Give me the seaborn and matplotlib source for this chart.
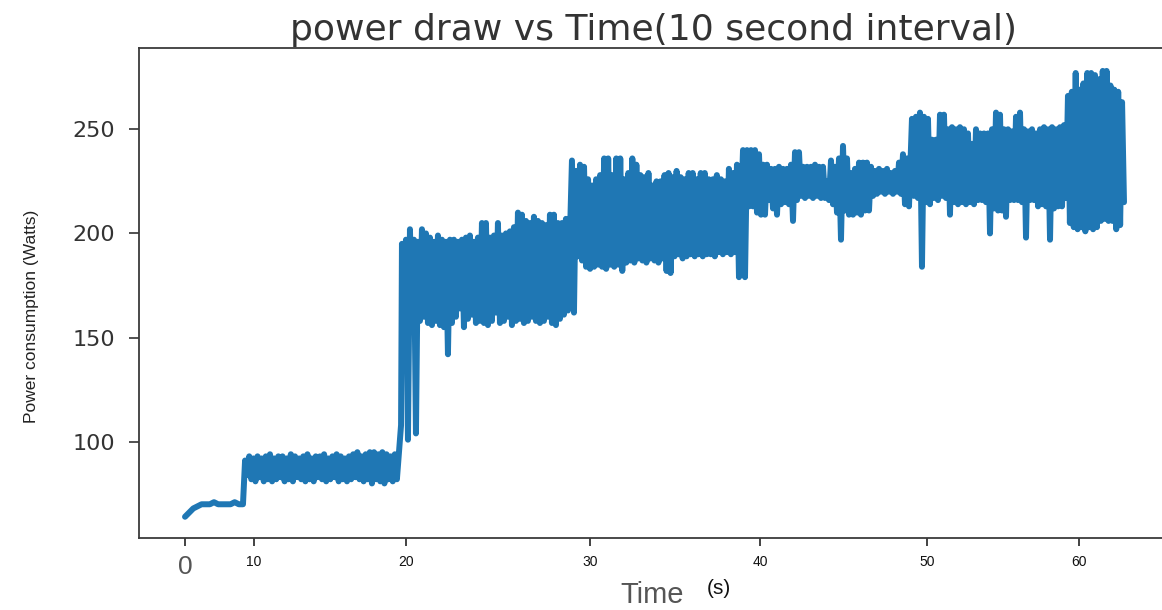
import matplotlib
matplotlib.use("Agg")
import matplotlib.pyplot as plt
import numpy as np
import pandas as pd
import seaborn as sns

# idle phase before the first load step
idle_w = [64, 66, 68, 69, 70, 70, 70, 71, 70, 70, 70, 70, 71, 70, 70]

# each loaded phase: upper and lower swings of the noisy signal (Watts)
hi_1 = [91, 93, 92, 93, 92, 93, 94, 92, 93, 93, 92, 94, 93, 92, 93, 94, 92, 93, 93,
        94, 92, 93, 94, 93, 92, 93, 94, 95, 93, 94, 95, 95, 94, 95, 94, 93, 94, 95]
lo_1 = [84, 82, 81, 83, 81, 82, 81, 82, 83, 81, 82, 81, 83, 82, 81, 82, 81, 83, 82,
        81, 82, 83, 81, 82, 81, 82, 83, 82, 81, 82, 80, 82, 81, 80, 82, 81, 82, 108]

hi_2 = [195, 197, 202, 197, 196, 202, 200, 198, 196, 199, 197, 196, 197, 197, 196,
        197, 198, 199, 196, 198, 205, 205, 198, 199, 205, 199, 200, 201, 203, 210,
        209, 206, 205, 208, 206, 205, 204, 209, 209, 205, 205, 207]
lo_2 = [165, 101, 160, 104, 158, 160, 157, 156, 158, 156, 155, 142, 157, 160, 164,
        155, 159, 161, 157, 158, 157, 156, 158, 162, 157, 158, 160, 156, 158, 159,
        157, 158, 160, 158, 157, 158, 160, 157, 156, 159, 161, 163]

hi_3 = [235, 230, 233, 232, 226, 223, 226, 228, 236, 236, 228, 236, 236, 226, 229,
        236, 233, 228, 227, 229, 223, 225, 225, 228, 229, 227, 230, 227, 226, 229,
        229, 226, 229, 229, 226, 226, 228, 226, 225, 231, 229, 233]
lo_3 = [162, 189, 187, 184, 183, 184, 185, 184, 183, 185, 184, 185, 182, 186, 187,
        186, 188, 187, 186, 188, 187, 186, 188, 182, 181, 189, 190, 188, 189, 190,
        189, 190, 189, 190, 190, 189, 191, 190, 191, 190, 191, 179]

hi_4 = [240, 240, 240, 240, 238, 233, 233, 231, 231, 232, 231, 231, 233, 239, 239,
        232, 232, 232, 233, 232, 232, 225, 235, 232, 236, 242, 236, 229, 231, 234,
        234, 234, 232, 230, 231, 230, 231, 229, 230, 234, 238, 236]
lo_4 = [179, 213, 213, 210, 209, 209, 216, 212, 209, 214, 215, 214, 206, 216, 218,
        217, 218, 217, 218, 217, 217, 216, 214, 210, 197, 211, 209, 209, 210, 209,
        211, 211, 218, 219, 220, 219, 220, 219, 220, 219, 214, 213]

hi_5 = [255, 256, 258, 256, 255, 245, 245, 257, 257, 250, 251, 250, 251, 250, 248,
        243, 250, 248, 248, 248, 250, 258, 257, 250, 250, 249, 256, 258, 250, 249,
        250, 248, 250, 251, 250, 251, 250, 251, 252]
lo_5 = [218, 217, 184, 215, 214, 217, 216, 218, 217, 209, 215, 214, 215, 214, 215,
        214, 216, 216, 215, 200, 212, 211, 211, 208, 216, 216, 216, 215, 198, 216,
        216, 213, 214, 213, 197, 212, 213, 213, 217]

hi_6 = [266, 268, 277, 269, 272, 277, 277, 276, 274, 278, 278, 271, 269, 268, 263]
lo_6 = [205, 203, 202, 203, 201, 203, 202, 203, 206, 207, 206, 206, 202, 204, 215]

# start / end time of each phase on the plotted axis
idle_span = (0.0, 3.89)
phase_start = [4.03, 14.56, 25.97, 37.45, 48.79, 59.26]
phase_end = [14.50, 25.70, 37.18, 48.59, 59.13, 63.02]
phase_hi = [hi_1, hi_2, hi_3, hi_4, hi_5, hi_6]
phase_lo = [lo_1, lo_2, lo_3, lo_4, lo_5, lo_6]

tick_pos = [0, 4.63, 14.83, 27.18, 38.59, 49.80, 60.0]
tick_labels = ["0", "10", "20", "30", "40", "50", "60"]
y_ticks = [100, 150, 200, 250]


def zigzag(hi, lo):
    out = []
    for h, l in zip(hi, lo):
        out += [h, l]
    return out


times = list(np.linspace(idle_span[0], idle_span[1], len(idle_w)))
watts = list(idle_w)
for start, end, hi, lo in zip(phase_start, phase_end, phase_hi, phase_lo):
    vals = zigzag(hi, lo)
    times += list(np.linspace(start, end, len(vals)))
    watts += vals
df = pd.DataFrame({"time": times, "watts": watts})

sns.set_style("white")
plt.rcParams["font.family"] = ["DejaVu Sans"]

fig = plt.figure(figsize=(11.62, 6.10), dpi=100)
ax = fig.add_axes([0.1196, 0.1180, 0.8859, 0.8033])

sns.lineplot(data=df, x="time", y="watts", color="#1f77b4", linewidth=4.3,
             sort=False, estimator=None, ax=ax)

ax.set_xlim(-3.09, 66.0)
ax.set_ylim(53.8, 289.0)

for side in ["left", "bottom", "top"]:
    ax.spines[side].set_color("#3a3a3a")
    ax.spines[side].set_linewidth(1.3)
ax.spines["right"].set_visible(False)

ax.set_yticks(y_ticks)
ax.set_yticklabels([str(v) for v in y_ticks], fontsize=16, color="#333333",
                   family="DejaVu Sans")
ax.tick_params(axis="y", length=7, width=1.2, color="#333333", pad=10, left=True)

ax.set_xticks(tick_pos)
ax.set_xticklabels(tick_labels, fontsize=10, color="#111111",
                   family=["Liberation Sans", "DejaVu Sans"])
ax.tick_params(axis="x", length=6, width=1.2, color="#222222", pad=6, bottom=True)
zero = ax.get_xticklabels()[0]
zero.set_fontsize(19)
zero.set_color("#555555")

ax.set_title("power draw vs Time(10 second interval)", fontsize=26,
             color="#333333", pad=6, family="DejaVu Sans")

ax.set_ylabel("Power consumption (Watts)", fontsize=12.5, color="#222222",
              family=["Liberation Sans", "DejaVu Sans"])
ax.yaxis.set_label_coords(-0.097, 0.453)

ax.set_xlabel("Time", fontsize=21, color="#555555",
              family=["Liberation Sans", "DejaVu Sans"])
ax.xaxis.set_label_coords(0.4983, -0.088)
ax.text(0.5634, -0.084, "(s)", transform=ax.transAxes, ha="center", va="top",
        fontsize=15, color="#111111", family=["Liberation Sans", "DejaVu Sans"])

fig.savefig("out.png", dpi=100)
